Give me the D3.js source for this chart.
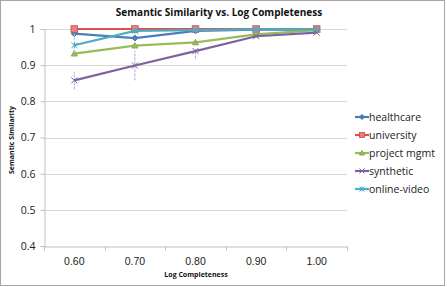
<!DOCTYPE html>
<html>
<head>
<meta charset="utf-8">
<script src="https://cdn.jsdelivr.net/npm/d3@7"></script>
<style>
  body { margin: 0; background: #fff; }
  svg { font-family: "Open Sans", "Liberation Sans", sans-serif; }
</style>
</head>
<body>
<div id="chart"></div>
<script>
const categories = ["0.60", "0.70", "0.80", "0.90", "1.00"];
const seriesNames = ["healthcare", "university", "project mgmt", "synthetic", "online-video"];
const healthcare = [0.987, 0.975, 0.995, 0.998, 0.998];
const university = [1.0, 1.0, 1.0, 1.0, 1.0];
const projectMgmt = [0.932, 0.954, 0.963, 0.985, 0.997];
const synthetic = [0.858, 0.899, 0.939, 0.980, 0.990];
const onlineVideo = [0.955, 0.995, 0.997, 0.999, 0.999];
// error bars (low, high), null where none visible
const syntheticErr = [[0.833, 0.882], [0.858, 0.94], [0.918, 0.945], null, null];
const onlineVideoErr = [[0.935, 0.99], null, null, null, null];
const yTicks = [0.4, 0.5, 0.6, 0.7, 0.8, 0.9, 1];

const colors = ["#4a7ebb", "#e0504b", "#9bbb59", "#7f60a0", "#4bacc6"];
const markers = ["diamond", "square", "triangle", "x", "star"];
const values = [healthcare, university, projectMgmt, synthetic, onlineVideo];
const errs = [null, null, null, syntheticErr, onlineVideoErr];

const W = 447, H = 287;
const plot = { left: 44, right: 347, top: 29, bottom: 246 };

const svg = d3.select("#chart").append("svg")
    .attr("width", W)
    .attr("height", H);

svg.append("rect")
    .attr("x", 0.5).attr("y", 0.5)
    .attr("width", W - 3).attr("height", H - 2)
    .attr("fill", "#fff")
    .attr("stroke", "#a6a6a6");

const x = d3.scaleBand()
    .domain(categories)
    .range([plot.left, plot.right]);

const y = d3.scaleLinear()
    .domain([0.4, 1])
    .range([plot.bottom, plot.top]);

// gridlines
svg.append("g")
    .selectAll("line")
    .data(yTicks.filter(d => d > 0.4))
    .join("line")
    .attr("x1", plot.left).attr("x2", plot.right)
    .attr("y1", d => Math.round(y(d)) + 0.5)
    .attr("y2", d => Math.round(y(d)) + 0.5)
    .attr("stroke", "#d9d9d9");

// y axis
const yAxis = svg.append("g")
    .attr("transform", `translate(${plot.left + 0.5},0)`)
    .call(d3.axisLeft(y).tickValues(yTicks).tickSize(4).tickPadding(5)
        .tickFormat(d => d === 1 ? "1" : d3.format(".1f")(d)));
yAxis.select(".domain").attr("stroke", "#bfbfbf");
yAxis.selectAll(".tick line").attr("stroke", "#bfbfbf");
yAxis.selectAll(".tick text")
    .attr("font-size", 10.5).attr("fill", "#222")
    .attr("font-family", "Open Sans, sans-serif");

// x axis
const xAxis = svg.append("g")
    .attr("transform", `translate(0,${plot.bottom + 0.5})`)
    .call(d3.axisBottom(x).tickSize(0).tickPadding(11));
xAxis.select(".domain").attr("stroke", "#bfbfbf");
xAxis.selectAll(".tick text")
    .attr("font-size", 10.5).attr("fill", "#222");
xAxis.append("g")
    .selectAll("line")
    .data(d3.range(categories.length + 1))
    .join("line")
    .attr("x1", i => Math.round(plot.left + i * x.step()) + 0.5)
    .attr("x2", i => Math.round(plot.left + i * x.step()) + 0.5)
    .attr("y1", 0).attr("y2", 4)
    .attr("stroke", "#bfbfbf");

// titles
svg.append("text")
    .attr("x", 219).attr("y", 16)
    .attr("text-anchor", "middle")
    .attr("font-size", 10).attr("font-weight", "bold")
    .attr("fill", "#111")
    .text("Semantic Similarity vs. Log Completeness");

svg.append("text")
    .attr("x", 196).attr("y", 277)
    .attr("text-anchor", "middle")
    .attr("font-size", 7).attr("font-weight", "bold")
    .attr("fill", "#111")
    .text("Log Completeness");

svg.append("text")
    .attr("transform", "translate(14,140) rotate(-90)")
    .attr("text-anchor", "middle")
    .attr("font-size", 7).attr("font-weight", "bold")
    .attr("fill", "#111")
    .text("Semantic Similarity");

const cx = d => x(d) + x.bandwidth() / 2;

function drawMarker(g, type, color, size) {
  const s = size;
  if (type === "diamond") {
    g.append("path").attr("d", `M0,${-s}L${s},0L0,${s}L${-s},0Z`)
      .attr("fill", color).attr("stroke", d3.color(color).darker(0.3));
  } else if (type === "square") {
    g.append("rect").attr("x", -s).attr("y", -s).attr("width", 2 * s).attr("height", 2 * s)
      .attr("fill", "#e8817e").attr("stroke", "#c0504d").attr("stroke-width", 0.8);
  } else if (type === "triangle") {
    g.append("path").attr("d", `M0,${-s}L${s},${s * 0.8}L${-s},${s * 0.8}Z`)
      .attr("fill", color).attr("stroke", d3.color(color).darker(0.3));
  } else if (type === "x") {
    g.append("path").attr("d", `M${-s},${-s}L${s},${s}M${-s},${s}L${s},${-s}`)
      .attr("stroke", color).attr("stroke-width", 1).attr("fill", "none");
  } else {
    g.append("path").attr("d", `M${-s},${-s}L${s},${s}M${-s},${s}L${s},${-s}M0,${-s}L0,${s}`)
      .attr("stroke", color).attr("stroke-width", 1).attr("fill", "none");
  }
}

const line = d3.line()
    .x((d, i) => cx(categories[i]))
    .y(d => y(d));

values.forEach((vals, k) => {
  const g = svg.append("g");
  // error bars
  if (errs[k]) {
    g.selectAll("line.err")
      .data(errs[k].map((e, i) => e ? { e, i } : null).filter(Boolean))
      .join("line")
      .attr("class", "err")
      .attr("x1", d => cx(categories[d.i])).attr("x2", d => cx(categories[d.i]))
      .attr("y1", d => y(d.e[0])).attr("y2", d => y(d.e[1]))
      .attr("stroke", d3.interpolateRgb(colors[k], "#fff")(0.45))
      .attr("stroke-width", 1)
      .attr("stroke-dasharray", "3,1");
  }
  g.append("path")
    .datum(vals)
    .attr("d", line)
    .attr("fill", "none")
    .attr("stroke", colors[k])
    .attr("stroke-width", 2.2);
  vals.forEach((v, i) => {
    const m = g.append("g").attr("transform", `translate(${cx(categories[i])},${y(v)})`);
    drawMarker(m, markers[k], colors[k], markers[k] === "square" ? 3.3 : 3);
  });
});

// legend
const legend = svg.append("g").attr("transform", "translate(355,117)");
seriesNames.forEach((name, k) => {
  const g = legend.append("g").attr("transform", `translate(0,${k * 18})`);
  g.append("line").attr("x1", 0).attr("x2", 14).attr("y1", 0).attr("y2", 0)
    .attr("stroke", colors[k]).attr("stroke-width", 2.2);
  const m = g.append("g").attr("transform", "translate(7,0)");
  drawMarker(m, markers[k], colors[k], 2.5);
  g.append("text").attr("x", 14).attr("y", 3.5)
    .attr("font-size", 10.5).attr("fill", "#222")
    .text(name);
});
</script>
</body>
</html>
